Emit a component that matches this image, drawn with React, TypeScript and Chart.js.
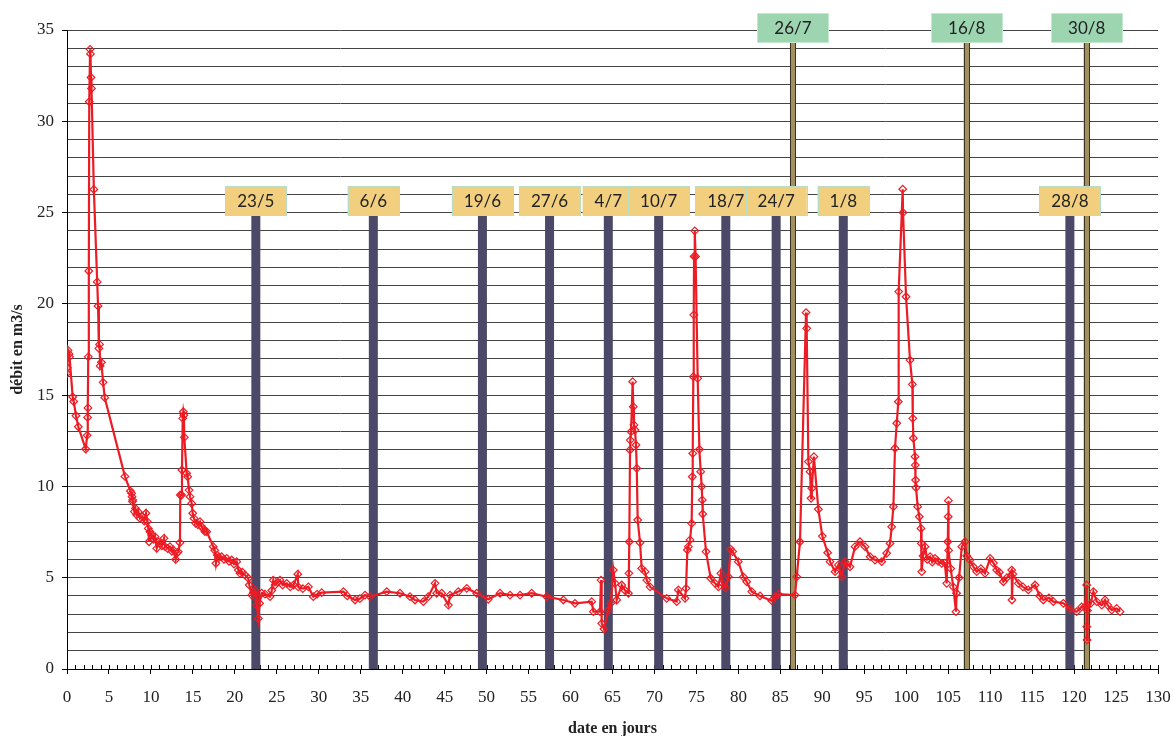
import React, { useEffect, useRef } from 'react';
import { Chart, registerables } from 'chart.js';

Chart.register(...registerables);

// ---- data -------------------------------------------------------------
const days = [
  0.0, 0.04, 0.12, 0.25, 0.3, 0.68, 0.8, 1.07, 1.35, 2.23, 2.4, 2.45, 2.5, 2.53, 2.6, 2.65, 2.75, 2.8, 2.86, 2.92,
  3.2, 3.6, 3.7, 3.8, 3.88, 3.95, 4.1, 4.3, 4.5, 6.9, 7.55, 7.7, 7.75, 7.8, 7.83, 8.02, 8.15, 8.3, 8.5, 8.7,
  9.0, 9.2, 9.41, 9.57, 9.69, 9.77, 9.89, 10.1, 10.3, 10.49, 10.69, 10.9, 11.08, 11.3, 11.56, 11.68, 12.0, 12.27, 12.5, 12.67,
  12.95, 13.1, 13.26, 13.46, 13.5, 13.66, 13.7, 13.79, 13.86, 13.92, 13.98, 14.26, 14.38, 14.54, 14.66, 14.86, 14.98, 15.13, 15.34, 15.6,
  15.85, 16.05, 16.3, 16.44, 16.65, 17.43, 17.6, 17.75, 17.9, 18.1, 18.43, 18.7, 19.03, 19.3, 19.62, 19.9, 20.22, 20.41, 20.61, 20.9,
  21.21, 21.6, 21.72, 22.01, 22.2, 22.4, 22.55, 22.6, 22.8, 22.95, 23.2, 23.6, 24.19, 24.4, 24.58, 24.8, 25.1, 25.38, 25.7, 26.18,
  26.6, 27.0, 27.5, 27.55, 28.1, 28.76, 29.35, 29.8, 30.35, 32.93, 33.4, 34.32, 34.9, 35.51, 36.1, 38.1, 39.68, 40.87, 41.47, 42.46,
  43.05, 43.85, 44.05, 44.65, 45.44, 45.64, 46.63, 47.63, 48.82, 50.2, 51.6, 52.79, 53.98, 55.37, 57.16, 59.14, 60.53, 62.52, 62.72, 63.51,
  63.63, 63.71, 63.99, 64.5, 64.8, 65.1, 65.3, 65.5, 66.1, 66.5, 66.9, 66.95, 67.0, 67.09, 67.12, 67.21, 67.4, 67.48, 67.56, 67.68,
  67.8, 67.89, 68.0, 68.28, 68.48, 68.88, 69.08, 69.47, 71.46, 72.65, 72.85, 73.64, 73.76, 73.92, 74.04, 74.24, 74.43, 74.51, 74.56, 74.63,
  74.68, 74.72, 74.8, 74.9, 75.15, 75.35, 75.51, 75.63, 75.7, 75.75, 76.14, 76.7, 77.22, 77.62, 77.9, 78.1, 78.49, 78.8, 79.08, 79.32,
  79.99, 80.59, 80.99, 81.59, 82.58, 83.97, 84.37, 84.76, 86.75, 86.95, 87.34, 88.06, 88.14, 88.34, 88.54, 88.66, 88.75, 89.0, 89.53, 90.0,
  90.64, 90.92, 91.52, 91.91, 92.3, 92.71, 93.3, 93.9, 94.49, 95.09, 95.69, 96.28, 97.08, 97.67, 98.07, 98.27, 98.47, 98.66, 98.87, 99.06,
  99.1, 99.58, 99.62, 99.98, 100.45, 100.73, 100.78, 100.85, 101.05, 101.08, 101.12, 101.17, 101.36, 101.56, 101.76, 101.8, 101.85, 102.0, 102.24, 102.5,
  102.84, 103.1, 103.43, 103.8, 104.23, 104.6, 104.82, 104.95, 105.0, 105.02, 105.05, 105.3, 105.6, 105.93, 106.0, 106.3, 106.62, 107.0, 107.2, 107.6,
  108.0, 108.4, 108.9, 109.39, 109.99, 110.4, 110.78, 111.1, 111.57, 112.0, 112.57, 112.6, 112.7, 113.36, 113.9, 114.55, 115.35, 115.9, 116.34, 117.0,
  117.53, 118.72, 119.5, 120.31, 120.9, 121.3, 121.5, 121.52, 121.55, 121.6, 122.0, 122.3, 122.7, 123.3, 123.69, 124.0, 124.49, 125.08, 125.48,
];

const flows = [
  16.2, 16.5, 17.45, 17.25, 17.1, 14.9, 14.65, 13.87, 13.27, 12.05, 12.8, 13.78, 14.3, 17.1, 21.8, 31.07, 33.94, 33.69, 32.4, 31.8,
  26.27, 21.2, 19.88, 17.56, 17.78, 16.6, 16.8, 15.7, 14.86, 10.55, 9.75, 9.62, 9.44, 9.17, 9.26, 8.62, 8.8, 8.44, 8.6, 8.25,
  8.35, 8.1, 8.53, 8.07, 7.7, 6.97, 7.52, 7.34, 7.1, 7.25, 6.61, 6.95, 6.88, 6.75, 7.16, 6.7, 6.6, 6.7, 6.45, 6.52,
  6.0, 6.35, 6.42, 6.92, 9.53, 9.53, 10.9, 13.73, 14.09, 13.9, 12.69, 10.72, 10.53, 9.8, 9.44, 9.07, 8.53, 8.25, 7.98, 7.9,
  8.07, 7.8, 7.65, 7.52, 7.52, 6.7, 6.5, 5.79, 6.24, 6.1, 6.15, 6.0, 6.06, 5.9, 5.97, 5.75, 5.88, 5.42, 5.24, 5.3,
  5.15, 4.97, 4.6, 4.05, 4.2, 4.33, 3.9, 3.5, 2.77, 3.6, 4.15, 4.1, 3.96, 4.3, 4.87, 4.6, 4.75, 4.87, 4.6, 4.69,
  4.5, 4.6, 5.19, 4.5, 4.4, 4.5, 3.96, 4.1, 4.18, 4.24, 4.0, 3.78, 3.85, 4.05, 3.96, 4.24, 4.15, 3.96, 3.78, 3.69,
  3.96, 4.69, 4.15, 4.15, 3.5, 4.05, 4.24, 4.42, 4.15, 3.82, 4.15, 4.05, 4.05, 4.15, 3.96, 3.78, 3.6, 3.69, 3.14, 3.14,
  4.87, 2.5, 2.19, 3.23, 3.6, 5.42, 4.69, 3.78, 4.6, 4.3, 4.15, 5.24, 6.97, 12.0, 12.54, 13.0, 15.74, 14.37, 13.37, 13.09,
  12.27, 10.99, 8.16, 6.92, 5.51, 5.33, 4.87, 4.5, 3.87, 3.69, 4.33, 3.87, 4.42, 6.52, 6.7, 7.07, 7.98, 10.53, 11.81, 16.01,
  19.4, 22.6, 24.0, 22.6, 15.92, 12.03, 10.81, 9.99, 9.26, 8.49, 6.43, 4.97, 4.69, 4.5, 5.24, 4.69, 4.42, 5.05, 6.56, 6.43,
  5.88, 5.05, 4.78, 4.24, 4.0, 3.74, 3.96, 4.1, 4.05, 5.05, 6.97, 19.52, 18.66, 11.36, 10.81, 9.35, 9.9, 11.63, 8.75, 7.28,
  6.37, 5.88, 5.33, 5.7, 5.05, 5.88, 5.6, 6.7, 6.97, 6.7, 6.15, 5.97, 5.88, 6.34, 6.88, 7.79, 8.89, 12.09, 13.46, 14.64,
  20.67, 26.28, 25.0, 20.39, 16.92, 15.59, 13.73, 12.64, 11.63, 11.17, 10.35, 9.93, 8.89, 8.34, 7.7, 6.88, 5.33, 6.2, 6.7, 6.0,
  6.15, 5.85, 6.06, 5.9, 5.79, 5.8, 4.69, 6.97, 8.34, 9.22, 6.5, 5.5, 4.5, 3.14, 4.15, 5.0, 6.7, 6.97, 6.2, 5.97,
  5.6, 5.33, 5.5, 5.24, 6.06, 5.8, 5.42, 5.3, 4.78, 5.0, 5.42, 3.78, 5.2, 4.69, 4.5, 4.33, 4.6, 4.0, 3.78, 3.9,
  3.69, 3.6, 3.3, 3.14, 3.4, 3.42, 4.6, 2.32, 1.59, 3.2, 3.6, 4.24, 3.69, 3.5, 3.78, 3.5, 3.23, 3.32, 3.14,
];

// markers (days since start) and their date labels
const sampleDays = [22.5, 36.5, 49.5, 57.5, 64.5, 70.5, 78.5, 84.5, 92.5, 119.5];
const sampleLabels = ['23/5', '6/6', '19/6', '27/6', '4/7', '10/7', '18/7', '24/7', '1/8', '28/8'];
const eventDays = [86.5, 107.2, 121.5];
const eventLabels = ['26/7', '16/8', '30/8'];

const xMin = 0;
const xMax = 130;
const yMin = 0;
const yMax = 35;

// ---- styles -----------------------------------------------------------
const SERIF = "'Liberation Serif', 'Times New Roman', serif";
const BOX_FONT = "17px Lato, 'DejaVu Sans', sans-serif";
const RED = '#ed1c24';

const markerPlugin = {
  id: 'markers',
  beforeDatasetsDraw(chart: any) {
    const { ctx, chartArea, scales } = chart;
    const x = scales.x;
    ctx.save();
    // inward minor ticks on x axis
    ctx.strokeStyle = '#000';
    ctx.lineWidth = 1;
    for (let v = xMin + 1; v <= xMax; v++) {
      const px = Math.round(x.getPixelForValue(v)) + 0.5;
      ctx.beginPath();
      ctx.moveTo(px, chartArea.bottom);
      ctx.lineTo(px, chartArea.bottom - 4);
      ctx.stroke();
    }

    const yBoxTop = chartArea.top + 156;
    const gBoxTop = 13;
    const boxH = 29;

    // dark sample bars
    ctx.fillStyle = '#4b4868';
    sampleDays.forEach((d) => {
      const px = x.getPixelForValue(d);
      ctx.fillRect(px - 4.5, yBoxTop + boxH, 9, chartArea.bottom - yBoxTop - boxH);
    });

    // olive event bars
    eventDays.forEach((d) => {
      const px = x.getPixelForValue(d);
      ctx.fillStyle = '#a39060';
      ctx.fillRect(px - 3, gBoxTop + boxH, 6, chartArea.bottom - gBoxTop - boxH);
      ctx.strokeStyle = '#3b3421';
      ctx.lineWidth = 1;
      ctx.beginPath();
      ctx.moveTo(Math.round(px - 3) + 0.5, gBoxTop + boxH);
      ctx.lineTo(Math.round(px - 3) + 0.5, chartArea.bottom);
      ctx.moveTo(Math.round(px + 3) - 0.5, gBoxTop + boxH);
      ctx.lineTo(Math.round(px + 3) - 0.5, chartArea.bottom);
      ctx.stroke();
    });

    ctx.font = BOX_FONT;
    ctx.textAlign = 'center';
    ctx.textBaseline = 'middle';
    // yellow labels
    sampleDays.forEach((d, i) => {
      const px = x.getPixelForValue(d);
      const w = ctx.measureText(sampleLabels[i]).width + 24;
      ctx.fillStyle = '#f2cf7e';
      ctx.fillRect(px - w / 2, yBoxTop, w, boxH);
      ctx.strokeStyle = '#b9ddc4';
      ctx.lineWidth = 1;
      ctx.strokeRect(Math.round(px - w / 2) + 0.5, yBoxTop + 0.5, Math.round(w), boxH);
      ctx.fillStyle = '#222';
      ctx.fillText(sampleLabels[i], px, yBoxTop + boxH / 2 + 1);
    });

    // green labels
    eventDays.forEach((d, i) => {
      const px = x.getPixelForValue(d);
      const w = ctx.measureText(eventLabels[i]).width + 34;
      ctx.fillStyle = '#9dd5b1';
      ctx.fillRect(px - w / 2, gBoxTop, w, boxH);
      ctx.strokeStyle = '#c4e8cf';
      ctx.lineWidth = 1;
      ctx.strokeRect(Math.round(px - w / 2) + 0.5, gBoxTop + 0.5, Math.round(w), boxH);
      ctx.fillStyle = '#222';
      ctx.fillText(eventLabels[i], px, gBoxTop + boxH / 2 + 1);
    });
    ctx.restore();
  },
};

export default function App() {
  const ref = useRef<HTMLCanvasElement | null>(null);

  useEffect(() => {
    if (!ref.current) return;
    const points = days.map((d, i) => ({ x: d, y: flows[i] }));
    const chart = new Chart(ref.current, {
      type: 'line',
      data: {
        datasets: [
          {
            data: points,
            borderColor: RED,
            borderWidth: 2.2,
            tension: 0,
            pointStyle: 'rectRot',
            pointRadius: 3.8,
            pointBorderWidth: 1.2,
            pointBorderColor: RED,
            pointBackgroundColor: 'rgba(255,255,255,0)',
          },
        ],
      },
      options: {
        animation: false,
        responsive: false,
        events: [],
        layout: { padding: { top: 30, right: 15, left: 0, bottom: 0 } },
        plugins: { legend: { display: false }, tooltip: { enabled: false } },
        scales: {
          x: {
            type: 'linear',
            min: xMin,
            max: xMax,
            afterFit: (s: any) => {
              s.height = 67;
              s.paddingLeft = 0;
              s.paddingRight = 0;
            },
            ticks: {
              stepSize: 1,
              autoSkip: false,
              maxRotation: 0,
              padding: 13,
              color: '#222',
              font: { family: SERIF, size: 17 },
              callback: (v: any) => (Number(v) % 5 === 0 ? String(v) : ''),
            },
            grid: {
              drawOnChartArea: false,
              drawTicks: true,
              tickLength: 5,
              tickColor: (c: any) => (c.tick && c.tick.value % 5 === 0 ? '#000' : 'rgba(0,0,0,0)'),
            },
            border: { display: true, color: '#000', width: 1 },
            title: {
              display: true,
              text: 'date en jours',
              color: '#222',
              font: { family: SERIF, size: 16, weight: 'bold' },
              padding: { top: 0, bottom: -2 },
            },
          },
          y: {
            min: yMin,
            max: yMax,
            afterFit: (s: any) => {
              s.width = 67;
              s.paddingTop = 0;
              s.paddingBottom = 0;
            },
            ticks: {
              stepSize: 1,
              autoSkip: false,
              padding: 8,
              color: '#222',
              font: { family: SERIF, size: 17 },
              callback: (v: any) => (Number(v) % 5 === 0 ? String(v) : ''),
            },
            grid: {
              color: '#454545',
              lineWidth: 1,
              tickLength: 5,
              tickColor: (c: any) => (c.tick && c.tick.value % 5 === 0 ? '#000' : 'rgba(0,0,0,0)'),
            },
            border: { display: true, color: '#000', width: 1 },
            title: {
              display: true,
              text: 'débit en m3/s',
              color: '#222',
              font: { family: SERIF, size: 16, weight: 'bold' },
              padding: { top: 8, bottom: 0 },
            },
          },
        },
      },
      plugins: [markerPlugin],
    });
    return () => chart.destroy();
  }, []);

  return (
    <div style={{ position: 'fixed', left: 0, top: 0, width: 1173, height: 736, background: '#fff' }}>
      <canvas ref={ref} width={1173} height={736} style={{ display: 'block' }} />
    </div>
  );
}
